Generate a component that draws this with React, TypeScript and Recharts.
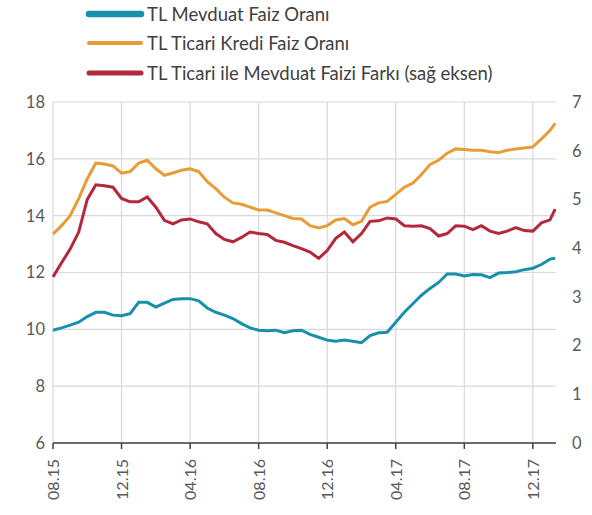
import React from 'react';
import { LineChart, Line, XAxis, YAxis, CartesianGrid, Legend } from 'recharts';

// month index since Aug 2015 (0 = 08.15)
const months = [
  0, 0.5, 1, 1.5, 2, 2.5, 3, 3.5, 4, 4.5, 5, 5.5, 6, 6.5, 7, 7.5, 8, 8.5, 9, 9.5,
  10, 10.5, 11, 11.5, 12, 12.5, 13, 13.5, 14, 14.5, 15, 15.5, 16, 16.5, 17, 17.5, 18, 18.5, 19, 19.5,
  20, 20.5, 21, 21.5, 22, 22.5, 23, 23.5, 24, 24.5, 25, 25.5, 26, 26.5, 27, 27.5, 28, 28.5, 29, 29.3,
];

const mevduat = [
  9.97, 10.05, 10.15, 10.25, 10.45, 10.6, 10.6, 10.5, 10.48, 10.55, 10.95, 10.95, 10.78, 10.92, 11.05, 11.08, 11.08, 11.0, 10.75, 10.6,
  10.5, 10.38, 10.2, 10.05, 9.97, 9.95, 9.97, 9.88, 9.95, 9.97, 9.82, 9.72, 9.62, 9.58, 9.62, 9.58, 9.53, 9.78, 9.88, 9.9,
  10.25, 10.6, 10.9, 11.2, 11.44, 11.65, 11.95, 11.95, 11.88, 11.93, 11.92, 11.82, 11.98, 12.0, 12.03, 12.1, 12.15, 12.28, 12.47, 12.5,
];

const ticari = [
  13.35, 13.65, 14.0, 14.6, 15.3, 15.85, 15.82, 15.75, 15.5, 15.55, 15.85, 15.95, 15.65, 15.42, 15.5, 15.6, 15.65, 15.55, 15.2, 14.95,
  14.65, 14.45, 14.4, 14.3, 14.2, 14.2, 14.1, 14.0, 13.9, 13.88, 13.65, 13.57, 13.65, 13.85, 13.9, 13.68, 13.8, 14.3, 14.45, 14.5,
  14.75, 15.0, 15.15, 15.45, 15.8, 15.95, 16.2, 16.35, 16.33, 16.3, 16.3, 16.25, 16.22, 16.3, 16.35, 16.38, 16.42, 16.7, 17.0, 17.25,
];

// spread, right axis
const fark = [
  3.41, 3.7, 3.98, 4.33, 5.0, 5.3, 5.28, 5.25, 5.02, 4.95, 4.95, 5.05, 4.84, 4.57, 4.5, 4.58, 4.6, 4.54, 4.5, 4.3,
  4.18, 4.13, 4.22, 4.33, 4.3, 4.28, 4.16, 4.12, 4.05, 3.99, 3.92, 3.79, 3.95, 4.2, 4.33, 4.13, 4.3, 4.55, 4.56, 4.62,
  4.6, 4.46, 4.45, 4.46, 4.4, 4.25, 4.3, 4.46, 4.45, 4.38, 4.46, 4.35, 4.3, 4.35, 4.42, 4.36, 4.35, 4.52, 4.58, 4.8,
];

const xTicks = [0, 4, 8, 12, 16, 20, 24, 28];
const xLabels = ['08.15', '12.15', '04.16', '08.16', '12.16', '04.17', '08.17', '12.17'];
const leftTicks = [6, 8, 10, 12, 14, 16, 18];
const rightTicks = [0, 1, 2, 3, 4, 5, 6, 7];
const X_MAX = 29.35;

const seriesNames = [
  'TL Mevduat Faiz Oranı',
  'TL Ticari Kredi Faiz Oranı',
  'TL Ticari ile Mevduat Faizi Farkı (sağ eksen)',
];

const BLUE = '#1890ad';
const ORANGE = '#e89c38';
const RED = '#b3283a';
const FONT = 'Lato, "Open Sans", sans-serif';
const TEXT = '#595959';

const data = months.map((m, i) => ({
  m,
  mevduat: mevduat[i],
  ticari: ticari[i],
  fark: fark[i],
}));

const XTick = (props: any) => {
  const { x, y, payload } = props;
  const idx = xTicks.indexOf(payload.value);
  return (
    <text
      x={x + 6}
      y={y + 8}
      transform={`rotate(-90, ${x + 6}, ${y + 8})`}
      textAnchor="end"
      fill={TEXT}
      fontSize={16}
      fontFamily={FONT}
    >
      {xLabels[idx]}
    </text>
  );
};

const legendItems = [
  { name: seriesNames[0], color: BLUE, width: 6.5, top: 14 },
  { name: seriesNames[1], color: ORANGE, width: 4, top: 43 },
  { name: seriesNames[2], color: RED, width: 5, top: 73 },
];

const ChartLegend = () => (
  <div style={{ position: 'relative', width: 592, height: 102, fontFamily: FONT }}>
    {legendItems.map((item) => (
      <div key={item.name} style={{ position: 'absolute', left: 84, top: item.top - 11, height: 22, display: 'flex', alignItems: 'center' }}>
        <svg width={63} height={22}>
          <line x1={5} y1={11} x2={57} y2={11} stroke={item.color} strokeWidth={item.width} strokeLinecap="round" />
        </svg>
        <span style={{ fontSize: 18.5, color: '#404040', whiteSpace: 'nowrap' }}>{item.name}</span>
      </div>
    ))}
  </div>
);

// vertical grid lines only at the month ticks (no line on the right edge)
const verticalLines = ({ offset }: any) =>
  xTicks.map((t) => offset.left + (t / X_MAX) * offset.width);

const App: React.FC = () => {
  return (
    <div style={{ position: 'absolute', left: 0, top: 0, background: '#fff' }}>
      <LineChart width={592} height={515} data={data} margin={{ top: 0, right: 0, bottom: 12, left: 8 }}>
        <CartesianGrid stroke="#d9d9d9" strokeWidth={1.2} yAxisId="left" verticalCoordinatesGenerator={verticalLines} />
        <XAxis
          dataKey="m"
          type="number"
          domain={[0, X_MAX]}
          ticks={xTicks}
          tick={<XTick />}
          height={60}
          stroke="#404040"
          axisLine={{ stroke: '#404040', strokeWidth: 1.5 }}
          tickLine={{ stroke: '#404040', strokeWidth: 1.5 }}
          tickSize={6}
          interval={0}
        />
        <YAxis
          yAxisId="left"
          domain={[6, 18]}
          ticks={leftTicks}
          axisLine={false}
          tickLine={false}
          width={45}
          tick={{ fill: TEXT, fontSize: 16.5, fontFamily: FONT }}
          interval={0}
        />
        <YAxis
          yAxisId="right"
          orientation="right"
          domain={[0, 7]}
          ticks={rightTicks}
          axisLine={false}
          tickLine={false}
          width={36}
          tickMargin={10}
          tick={{ fill: TEXT, fontSize: 16.5, fontFamily: FONT, textAnchor: 'start' }}
          interval={0}
        />
        <Legend verticalAlign="top" wrapperStyle={{ top: 0, left: 0 }} content={() => <ChartLegend />} />
        <Line yAxisId="left" dataKey="mevduat" name={seriesNames[0]} stroke={BLUE} strokeWidth={3} dot={false} type="linear" isAnimationActive={false} />
        <Line yAxisId="left" dataKey="ticari" name={seriesNames[1]} stroke={ORANGE} strokeWidth={3} dot={false} type="linear" isAnimationActive={false} />
        <Line yAxisId="right" dataKey="fark" name={seriesNames[2]} stroke={RED} strokeWidth={3} dot={false} type="linear" isAnimationActive={false} />
      </LineChart>
    </div>
  );
};

export default App;
